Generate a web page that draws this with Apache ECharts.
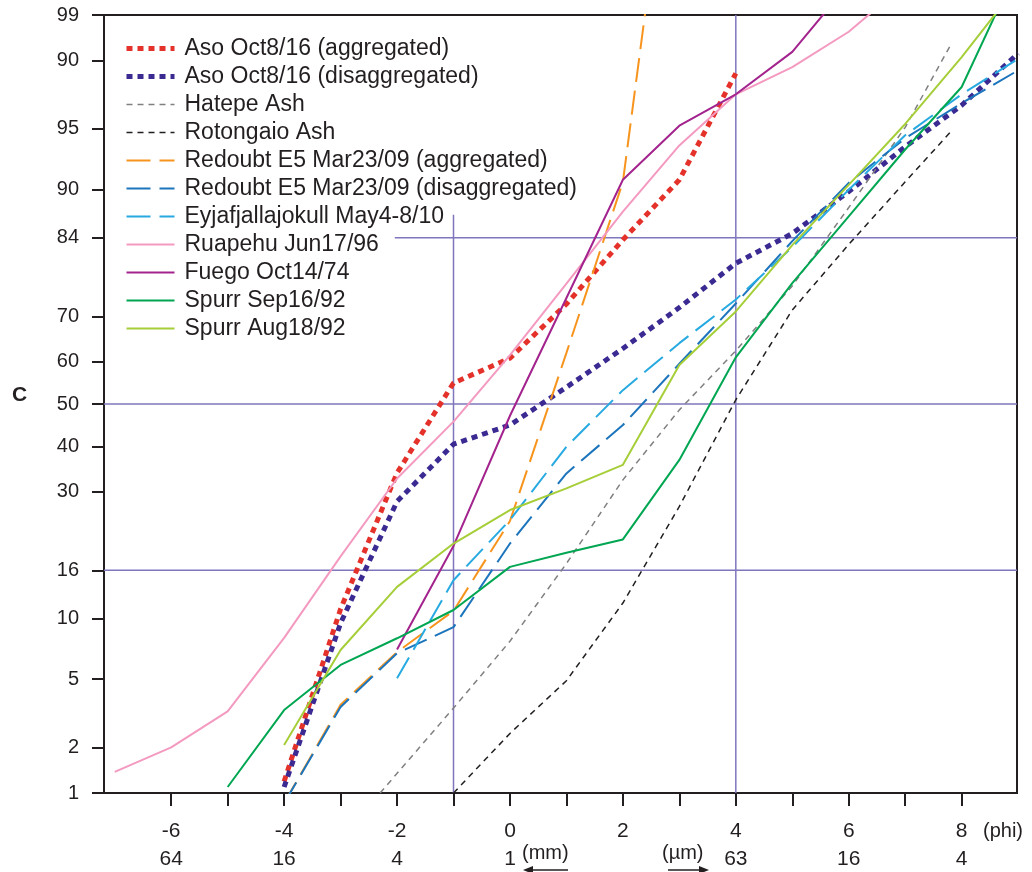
<!DOCTYPE html>
<html>
<head>
<meta charset="utf-8">
<title>Cumulative grain size distributions</title>
<script src="https://cdn.jsdelivr.net/npm/echarts@6/dist/echarts.min.js"></script>
<style>
  html, body { margin: 0; padding: 0; background: #fff; }
  #main { width: 1032px; height: 872px; }
</style>
</head>
<body>
<div id="main"></div>
<script>
// 粒径 phi 与累计百分比 (%)
const asoAggPhi = [-4, -3, -2, -1, 0, 1, 2, 3, 4];
const asoAggPct = [1.2, 11, 34, 55, 60.8, 72.5, 83.7, 91, 97.6];

const asoDisPhi = [-4, -3, -2, -1, 0, 1, 2, 3, 4, 5, 6, 7, 8, 9];
const asoDisPct = [1.1, 9.5, 28, 40.5, 45, 54, 63, 71.8, 80, 84.6, 89.8, 93.8, 96.3, 98.2];

const hatepePhi = [-2.3, -1, 0, 1, 2, 3, 4, 5, 6, 7, 7.8];
const hatepePct = [1, 3.45, 7.8, 17, 32.5, 48.6, 62.5, 76, 88, 95.1, 98.4];

const rotongaioPhi = [-1, 0, 1, 2, 3, 4, 5, 6, 7, 7.8];
const rotongaioPct = [1, 2.44, 4.9, 11.7, 27, 51, 71.3, 83, 90.8, 94.8];

const redoubtAggPhi = [-4, -3, -2, -1, 0, 1, 2, 3];
const redoubtAggPct = [0.85, 3.6, 6.9, 10.8, 24.2, 62, 90.8, 99.995];

const redoubtDisPhi = [-4, -3, -2, -1, 0, 1, 2, 3, 4, 5, 6, 7, 8, 9];
const redoubtDisPct = [0.85, 3.5, 6.8, 9.1, 20.2, 33.9, 45, 59.5, 72.6, 83.5, 90.7, 94.4, 96.4, 97.7];

const eyjaPhi = [-2, -1, 0, 1, 2, 3, 4, 5, 6, 7, 8, 9];
const eyjaPct = [5.05, 14.6, 24.4, 39.9, 53.3, 64.2, 73.4, 82.6, 90, 94.6, 96.8, 98.05];

const ruapehuPhi = [-7, -6, -5, -4, -3, -2, -1, 0, 1, 2, 3, 4, 5, 6, 7];
const ruapehuPct = [1.39, 2.0, 3.3, 8.1, 18.1, 32.8, 45.8, 61.5, 76.4, 87.5, 93.9, 96.8, 97.8, 98.7, 99.4];

const fuegoPhi = [-2, -1, 0, 1, 2, 3, 4, 5, 6];
const fuegoPct = [7.1, 19.8, 47.2, 73.7, 91.0, 95.2, 96.8, 98.24, 99.4];

const spurrSepPhi = [-5, -4, -3, -2, -1, 0, 1, 2, 3, 4, 5, 6, 7, 8, 9];
const spurrSepPct = [1.1, 3.36, 5.93, 8.06, 10.9, 16.5, 18.7, 20.9, 36.9, 61, 76.5, 86.9, 93.6, 97.1, 99.56];

const spurrAugPhi = [-4, -3, -2, -1, 0, 1, 2, 3, 4, 5, 6, 7, 8, 9];
const spurrAugPct = [2.07, 7.06, 13.7, 20.2, 26.3, 30.7, 35.8, 59.2, 71, 82.9, 90.5, 95.3, 98.1, 99.39];

// 坐标轴刻度
const yTickPercents = [1, 2, 5, 10, 16, 30, 40, 50, 60, 70, 84, 90, 95, 98, 99];
const yTickLabels = ['1', '2', '5', '10', '16', '30', '40', '50', '60', '70', '84', '90', '95', '90', '99'];
const xTickPhi = [-6, -5, -4, -3, -2, -1, 0, 1, 2, 3, 4, 5, 6, 7, 8];
const xLabelPhi = [-6, -4, -2, 0, 2, 4, 6, 8];
const xLabelSize = ['64', '16', '4', '1', '', '63', '16', '4'];

// 参考线
const refPercents = [84, 50, 16];
const refPercentStartPhi = [-2.04, -7.19, -7.19];
const refPhis = [-1, 4];
const refPhiTopPercent = [87.1, 99];

const X_MIN = -7.19, X_MAX = 8.98;
const FONT = "'Liberation Sans', Arial, Helvetica, sans-serif";
const INK = '#231f20';
const REF_COLOR = '#7f76bd';

// 正态分布逆函数（概率纸坐标）
function probit(p) {
  const a = [-3.969683028665376e+01, 2.209460984245205e+02, -2.759285104469687e+02, 1.383577518672690e+02, -3.066479806614716e+01, 2.506628277459239e+00];
  const b = [-5.447609879822406e+01, 1.615858368580409e+02, -1.556989798598866e+02, 6.680131188771972e+01, -1.328068155288572e+01];
  const c = [-7.784894002430293e-03, -3.223964580411365e-01, -2.400758277161838e+00, -2.549671010229146e+00, 4.374664141464968e+00, 2.938163982698783e+00];
  const d = [7.784695709041462e-03, 3.224671290700398e-01, 2.445134137142996e+00, 3.754408661907416e+00];
  const pl = 0.02425;
  let q, r;
  if (p < pl) {
    q = Math.sqrt(-2 * Math.log(p));
    return (((((c[0] * q + c[1]) * q + c[2]) * q + c[3]) * q + c[4]) * q + c[5]) /
      ((((d[0] * q + d[1]) * q + d[2]) * q + d[3]) * q + 1);
  }
  if (p > 1 - pl) {
    q = Math.sqrt(-2 * Math.log(1 - p));
    return -(((((c[0] * q + c[1]) * q + c[2]) * q + c[3]) * q + c[4]) * q + c[5]) /
      ((((d[0] * q + d[1]) * q + d[2]) * q + d[3]) * q + 1);
  }
  q = p - 0.5;
  r = q * q;
  return (((((a[0] * r + a[1]) * r + a[2]) * r + a[3]) * r + a[4]) * r + a[5]) * q /
    (((((b[0] * r + b[1]) * r + b[2]) * r + b[3]) * r + b[4]) * r + 1);
}

const Y_MIN = probit(0.01);
const Y_MAX = probit(0.99);
const yTickZ = yTickPercents.map(p => probit(p / 100));

function mkSeries(name, phis, pcts, color, width, type) {
  return {
    name: name,
    type: 'line',
    symbol: 'none',
    z: 3,
    clip: true,
    data: phis.map((x, i) => [x, probit(pcts[i] / 100)]),
    lineStyle: { color: color, width: width, type: type, cap: 'butt' },
    itemStyle: { color: color },
    emphasis: { disabled: true }
  };
}

const dataSeries = [
  mkSeries('Aso Oct8/16 (aggregated)', asoAggPhi, asoAggPct, '#e4322b', 5, [6, 5]),
  mkSeries('Aso Oct8/16 (disaggregated)', asoDisPhi, asoDisPct, '#3b2a92', 5, [6, 5]),
  mkSeries('Hatepe Ash', hatepePhi, hatepePct, '#808080', 1.5, [6, 5]),
  mkSeries('Rotongaio Ash', rotongaioPhi, rotongaioPct, INK, 1.5, [6, 5]),
  mkSeries('Redoubt E5 Mar23/09 (aggregated)', redoubtAggPhi, redoubtAggPct, '#f7941d', 2, [24, 9]),
  mkSeries('Redoubt E5 Mar23/09 (disaggregated)', redoubtDisPhi, redoubtDisPct, '#1c75bc', 2, [24, 9]),
  mkSeries('Eyjafjallajokull May4-8/10', eyjaPhi, eyjaPct, '#27aae1', 2, [24, 9]),
  mkSeries('Ruapehu Jun17/96', ruapehuPhi, ruapehuPct, '#f49ac1', 2, 'solid'),
  mkSeries('Fuego Oct14/74', fuegoPhi, fuegoPct, '#a3238e', 2, 'solid'),
  mkSeries('Spurr Sep16/92', spurrSepPhi, spurrSepPct, '#00a651', 2, 'solid'),
  mkSeries('Spurr Aug18/92', spurrAugPhi, spurrAugPct, '#a6ce39', 2, 'solid')
];

const refSeries = [];
refPercents.forEach((p, i) => {
  refSeries.push({
    name: 'ref-h' + p, type: 'line', symbol: 'none', z: 1, silent: true,
    data: [[refPercentStartPhi[i], probit(p / 100)], [X_MAX, probit(p / 100)]],
    lineStyle: { color: REF_COLOR, width: 1.5 }
  });
});
refPhis.forEach((x, i) => {
  refSeries.push({
    name: 'ref-v' + x, type: 'line', symbol: 'none', z: 1, silent: true,
    data: [[x, probit(refPhiTopPercent[i] / 100)], [x, Y_MIN]],
    lineStyle: { color: REF_COLOR, width: 1.5 }
  });
});

const chart = echarts.init(document.getElementById('main'), null, { renderer: 'canvas' });

chart.setOption({
  animation: false,
  backgroundColor: '#fff',
  textStyle: { fontFamily: FONT },
  grid: {
    left: 104, right: 15, top: 15, bottom: 79,
    show: true, borderColor: INK, borderWidth: 2,
    outerBoundsMode: 'none'
  },
  legend: {
    orient: 'vertical',
    left: 119, top: 32,
    itemWidth: 48, itemHeight: 14, itemGap: 5,
    selectedMode: false,
    data: dataSeries.map(s => s.name),
    itemStyle: { opacity: 0 },
    lineStyle: { width: 'inherit' },
    textStyle: { fontSize: 23, color: INK, fontFamily: FONT, lineHeight: 23, padding: [0, 0, 0, 5] }
  },
  xAxis: {
    type: 'value', min: X_MIN, max: X_MAX,
    axisLine: { show: true, onZero: false, lineStyle: { color: INK, width: 2 } },
    axisTick: { show: true, length: 13, customValues: xTickPhi, lineStyle: { color: INK, width: 2 } },
    axisLabel: {
      customValues: xLabelPhi, margin: 24, fontSize: 21, lineHeight: 28, color: INK, fontFamily: FONT,
      formatter: v => {
        const i = xLabelPhi.findIndex(t => Math.abs(t - v) < 1e-6);
        return String(v) + '\n' + (i >= 0 && xLabelSize[i] ? xLabelSize[i] : ' ');
      }
    },
    splitLine: { show: false }
  },
  yAxis: {
    type: 'value', min: Y_MIN, max: Y_MAX,
    axisLine: { show: true, onZero: false, lineStyle: { color: INK, width: 2 } },
    axisTick: { show: true, length: 12, customValues: yTickZ, lineStyle: { color: INK, width: 2 } },
    axisLabel: {
      customValues: yTickZ, margin: 25, fontSize: 20, color: INK, fontFamily: FONT,
      showMinLabel: true, showMaxLabel: true,
      formatter: v => {
        let best = 0;
        yTickZ.forEach((z, i) => { if (Math.abs(z - v) < Math.abs(yTickZ[best] - v)) best = i; });
        return yTickLabels[best];
      }
    },
    splitLine: { show: false }
  },
  graphic: [
    { type: 'text', x: 12, y: 395, style: { text: 'C', font: 'bold 21px ' + FONT, fill: INK, verticalAlign: 'middle' } },
    { type: 'text', x: 983, y: 831, style: { text: '(phi)', font: '20px ' + FONT, fill: INK, verticalAlign: 'middle' } },
    { type: 'text', x: 522, y: 853, style: { text: '(mm)', font: '20px ' + FONT, fill: INK, verticalAlign: 'middle' } },
    { type: 'text', x: 662, y: 853, style: { text: '(µm)', font: '20px ' + FONT, fill: INK, verticalAlign: 'middle' } },
    { type: 'line', shape: { x1: 530, y1: 870, x2: 568, y2: 870 }, style: { stroke: INK, lineWidth: 1.5 } },
    { type: 'polygon', shape: { points: [[523, 870], [533, 866], [533, 874]] }, style: { fill: INK } },
    { type: 'line', shape: { x1: 668, y1: 870, x2: 702, y2: 870 }, style: { stroke: INK, lineWidth: 1.5 } },
    { type: 'polygon', shape: { points: [[709, 870], [699, 866], [699, 874]] }, style: { fill: INK } }
  ],
  series: refSeries.concat(dataSeries)
});
</script>
</body>
</html>
